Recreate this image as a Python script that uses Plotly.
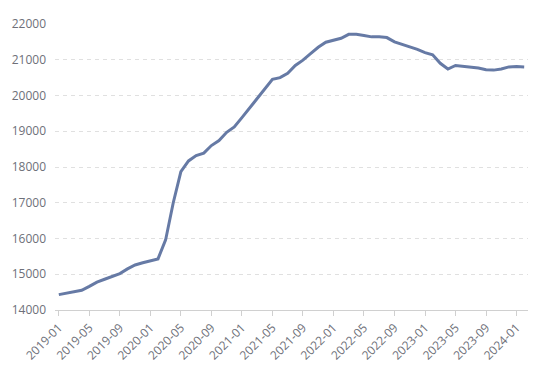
import plotly.graph_objects as go

months = [f"{y}-{m:02d}" for y in range(2019, 2025) for m in range(1, 13)][:62]
values = [
    14430, 14470, 14510, 14550, 14660, 14780, 14860, 14940, 15020, 15150, 15260, 15320,
    15380, 15430, 15960, 17000, 17870, 18170, 18320, 18390, 18600, 18740, 18970, 19120,
    19380, 19650, 19900, 20200, 20450, 20500, 20620, 20840, 20990, 21170, 21350, 21490,
    21550, 21600, 21710, 21710, 21680, 21640, 21640, 21620, 21500, 21430, 21380, 21290,
    21200, 21140, 20900, 20740, 20840, 20820, 20800, 20770, 20720, 20710, 20740, 20800,
    20810, 20800,
]
tick_labels = months[::4]
y_ticks = [14000, 15000, 16000, 17000, 18000, 19000, 20000, 21000, 22000]

fig = go.Figure()
fig.add_trace(go.Scatter(
    x=months, y=values, mode="lines",
    line=dict(color="#667aa5", width=3),
    hoverinfo="x+y",
))

fig.update_layout(
    width=534, height=369,
    margin=dict(l=55, r=6, t=24, b=59),
    paper_bgcolor="white", plot_bgcolor="white",
    showlegend=False,
    font=dict(family="Open Sans, sans-serif", size=12, color="#6e7079"),
)
fig.update_xaxes(
    type="category", range=[-0.5, 61.5],
    tickmode="array", tickvals=tick_labels, ticktext=tick_labels,
    tickangle=-45, showgrid=False,
    showline=True, linecolor="#d0d0d0", linewidth=1,
    ticks="outside", ticklen=5, tickcolor="#d0d0d0",
    tickfont=dict(size=12, color="#6e7079"),
    zeroline=False,
)
fig.update_yaxes(
    range=[14000, 22000], tickvals=y_ticks,
    ticktext=[str(v) for v in y_ticks],
    showgrid=True, gridcolor="#e0e0e0", griddash="4px,4px", gridwidth=1,
    showline=False, zeroline=False, ticks="",
    ticklabelstandoff=8,
    tickfont=dict(size=12, color="#6e7079"),
)

fig.write_html("out.html")
